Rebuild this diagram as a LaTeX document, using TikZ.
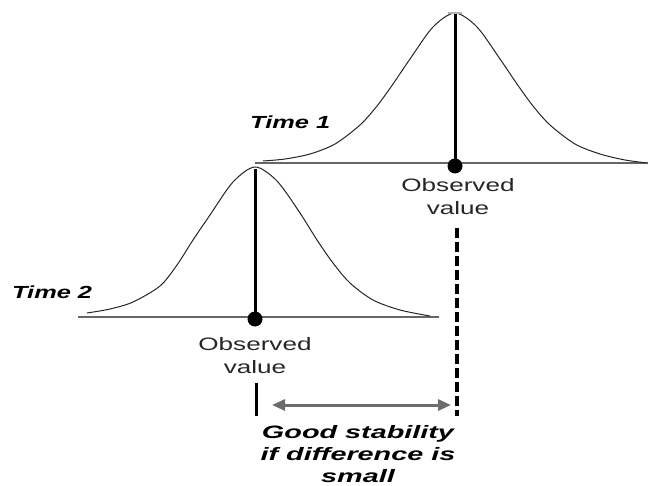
\documentclass[tikz,border=0pt]{standalone}
\usepackage{fontspec}
\setmainfont{Liberation Sans}[FakeStretch=1.45]
\newfontfamily\notefont{Liberation Sans}[FakeStretch=1.6]
\usetikzlibrary{arrows.meta}
\begin{document}
\begin{tikzpicture}[x=1pt,y=-1pt,
 curve/.style={line width=1pt, black!85},
 base/.style={line width=1.2pt, gray!80!black},
 stem/.style={line width=3pt},
 dot/.style={circle, fill=black, minimum size=15pt, inner sep=0pt},
 lbl/.style={font=\fontsize{18}{23}\selectfont, align=center, inner sep=0pt, text=black!85},
 timelbl/.style={font=\fontsize{17.5}{20}\selectfont\bfseries\itshape, anchor=west, inner sep=0pt},
 note/.style={font=\notefont\fontsize{18}{22}\selectfont\bfseries\itshape, align=center, inner sep=0pt},
 gap/.style={line width=3pt, gray!85!black, {Triangle[length=13pt,width=11pt]}-{Triangle[length=13pt,width=11pt]}}]
\useasboundingbox (0,0) rectangle (650,486);
% Time 1 distribution
\draw[base] (255,163) -- (648,163);
\draw[curve, shift={(455,163)}] plot[smooth] coordinates {(-192,-2) (-170,-4) (-145,-9) (-120,-19) (-95,-38) (-78,-57) (-62,-79) (-45,-104) (-22,-136) (0,-150) (22,-136) (45,-104) (62,-79) (78,-57) (95,-38) (120,-19) (145,-9) (170,-3) (192,0)};
\draw[gray!60, line width=1.5pt] (448,13) -- (462,13);
\coordinate (p1) at (455,14);
\node[dot] (d1) at (455,166) {};
\draw[stem] (p1) -- (d1.center);
\node[timelbl] (t1) at (250,122) {Time 1};
\node[lbl] (o1) at (458,197) {Observed\\value};
% Time 2 distribution
\draw[base] (78,317) -- (439,317);
\draw[curve, shift={(255,317)}] plot[smooth] coordinates {(-168,-4) (-145,-8) (-122,-15) (-95,-31) (-78,-52) (-62,-77) (-45,-102) (-22,-135) (0,-150) (22,-136) (45,-104) (62,-77) (78,-54) (95,-34) (118,-17) (145,-7) (175,-1)};
\coordinate (p2) at (255,169);
\node[dot] (d2) at (255,319) {};
\draw[stem] (p2) -- (d2.center);
\node[timelbl] (t2) at (12,292) {Time 2};
\node[lbl] (o2) at (255,356) {Observed\\value};
% comparison
\coordinate (s1) at (457,228);
\coordinate (s2) at (457,416);
\draw[line width=3.5pt, dash pattern=on 10pt off 4pt] (s1) -- (s2);
\coordinate (b1) at (256,383);
\coordinate (b2) at (256,416);
\draw[stem] (b1) -- (b2);
\coordinate (a1) at (272,405);
\coordinate (a2) at (451,405);
\draw[gap] (a1) -- (a2);
\node[note] (n) at (358,454) {Good stability\\if difference is\\small};
\end{tikzpicture}
\end{document}
